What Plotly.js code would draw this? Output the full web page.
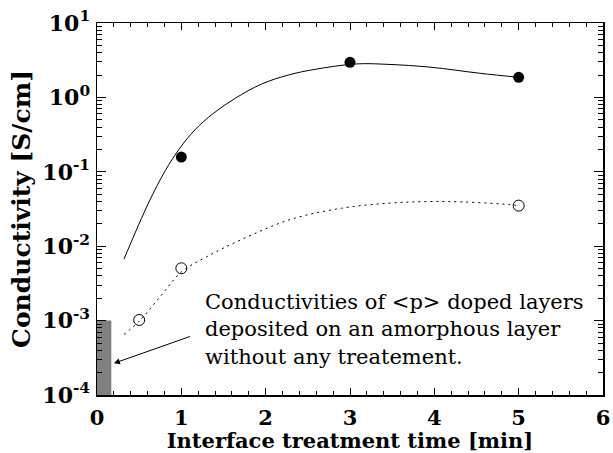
<!DOCTYPE html>
<html>
<head>
<meta charset="utf-8">
<script src="https://cdn.plot.ly/plotly-3.0.1.min.js"></script>
<style>html,body{margin:0;padding:0;background:#fff;}#chart{width:613px;height:453px;}</style>
</head>
<body>
<div id="chart"></div>
<script>
// Measured points
var filledX = [1, 3, 5];
var filledY = [0.158, 2.96, 1.86];
var openX = [0.5, 1, 5];
var openY = [0.00102, 0.00505, 0.0351];

// Fitted curves
var solidX = [0.32, 0.45, 0.61, 0.81, 0.985, 1.16, 1.38, 1.64, 1.95, 2.27, 2.59, 3.08, 3.45, 3.95, 4.54, 5.0];
var solidY = [0.0067, 0.0149, 0.038, 0.104, 0.21, 0.365, 0.61, 0.973, 1.51, 2.0, 2.39, 2.82, 2.78, 2.55, 2.11, 1.86];
var dotX = [0.32, 0.5, 0.75, 1.0, 1.3, 1.7, 2.3, 2.9, 3.45, 3.9, 4.35, 4.9, 5.0];
var dotY = [0.00065, 0.00098, 0.0021, 0.0045, 0.0072, 0.0121, 0.023, 0.0324, 0.0378, 0.0398, 0.0393, 0.0362, 0.0351];

// Untreated reference bar
var barX = [0.085];
var barWidth = [0.17];
var barY = [0.001];

var yTickVals = [1e-4, 1e-3, 1e-2, 1e-1, 1e0, 1e1];
var yTickText = ['10<sup>-4</sup>', '10<sup>-3</sup>', '10<sup>-2</sup>', '10<sup>-1</sup>', '10<sup>0</sup>', '10<sup>1</sup>'];
var xTickVals = [0, 1, 2, 3, 4, 5, 6];
var xTickText = ['0', '1', '2', '3', '4', '5', '6'];

var noteText = 'Conductivities of &lt;p&gt; doped layers<br>deposited on an amorphous layer<br>without any treatement.';

var yMinor = [];
for (var e = -4; e < 1; e++) { for (var m = 2; m <= 9; m++) { yMinor.push(m * Math.pow(10, e)); } }

var serif = 'DejaVu Serif, Liberation Serif, serif';

var traces = [
  {type: 'bar', x: barX, y: barY, width: barWidth, marker: {color: '#808080', line: {width: 0}}, hoverinfo: 'skip'},
  {type: 'scatter', mode: 'lines', x: solidX, y: solidY, line: {color: '#000', width: 1, shape: 'spline', smoothing: 1}},
  {type: 'scatter', mode: 'lines', x: dotX, y: dotY, line: {color: '#000', width: 1, dash: '2px,4px', shape: 'spline', smoothing: 1}},
  {type: 'scatter', mode: 'markers', x: filledX, y: filledY, marker: {symbol: 'circle', size: 11, color: '#000'}},
  {type: 'scatter', mode: 'markers', x: openX, y: openY, marker: {symbol: 'circle-open', size: 11, color: '#000', line: {width: 1}}}
];

var layout = {
  width: 613, height: 453,
  margin: {l: 97, r: 10, t: 23, b: 58},
  paper_bgcolor: '#fff', plot_bgcolor: '#fff',
  showlegend: false,
  font: {family: serif, color: '#000'},
  xaxis: {
    range: [0, 6], tickmode: 'array', tickvals: xTickVals, ticktext: xTickText,
    ticks: 'inside', ticklen: 7, tickwidth: 1, tickcolor: '#000',
    showline: true, linecolor: '#000', linewidth: 1.5, mirror: 'ticks',
    showgrid: false, zeroline: false,
    tickfont: {family: serif, size: 21, weight: 'bold'},
    ticklabelstandoff: 3,
    minor: {dtick: 0.2, ticks: 'inside', ticklen: 4, tickcolor: '#000', showgrid: false},
    title: {text: 'Interface treatment time [min]', font: {family: serif, size: 21, weight: 'bold'}, standoff: 0}
  },
  yaxis: {
    type: 'log', range: [-4, 1], tickmode: 'array', tickvals: yTickVals, ticktext: yTickText,
    ticks: 'inside', ticklen: 9, tickwidth: 1, tickcolor: '#000',
    showline: true, linecolor: '#000', linewidth: 1.5, mirror: 'ticks',
    showgrid: false, zeroline: false,
    tickfont: {family: serif, size: 22, weight: 'bold'},
    ticklabelstandoff: 1,
    minor: {tickmode: 'array', tickvals: yMinor, ticks: 'inside', ticklen: 5, tickcolor: '#000', showgrid: false},
    title: {text: 'Conductivity [S/cm]', font: {family: serif, size: 25, weight: 'bold'}, standoff: 4}
  },
  annotations: [
    {x: 0.2, y: -3.574, xref: 'x', yref: 'y', ax: 1.12, ay: -3.207, axref: 'x', ayref: 'y',
     showarrow: true, arrowhead: 2, arrowsize: 1.2, arrowwidth: 1, arrowcolor: '#000', text: ''},
    {x: 1.26, y: -3.113, xref: 'x', yref: 'y', xanchor: 'left', yanchor: 'middle', align: 'left',
     showarrow: false, text: noteText, font: {family: 'DejaVu Serif, serif', size: 21, color: '#000'}}
  ]
};

Plotly.newPlot('chart', traces, layout, {displayModeBar: false, staticPlot: true});
</script>
</body>
</html>
